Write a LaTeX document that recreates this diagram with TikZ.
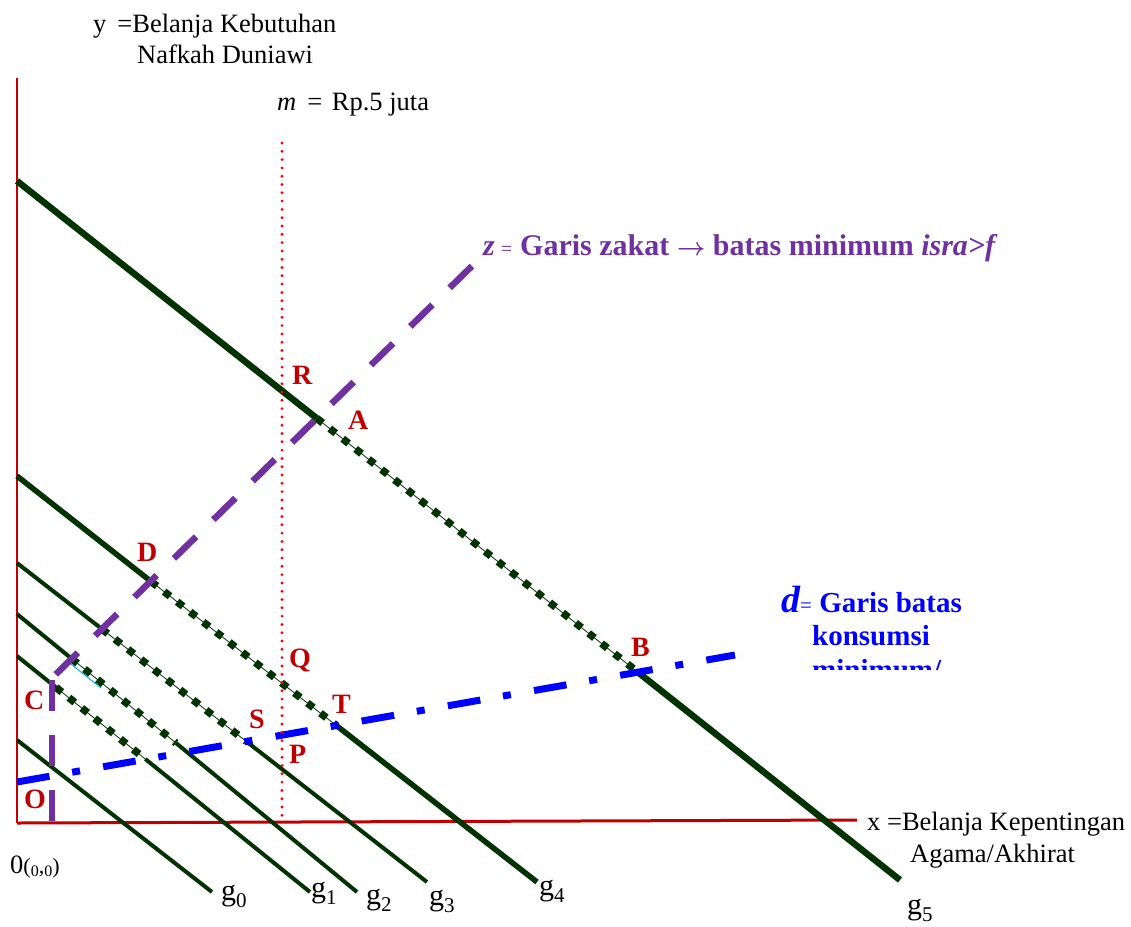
\documentclass[tikz,border=0pt]{standalone}
\usepackage{fontspec}
\setmainfont{Liberation Serif}
\usepackage{xcolor}
\usepackage{tikz}

\definecolor{axred}{RGB}{192,0,0}
\definecolor{gdark}{RGB}{0,51,0}
\definecolor{zpurple}{RGB}{112,48,160}
\definecolor{dblue}{RGB}{0,0,255}
\definecolor{skyline}{RGB}{0,176,240}

\begin{document}
\begin{tikzpicture}[
  x=1pt, y=-1pt,
  every node/.style={inner sep=0pt, anchor=base west},
  lab/.style={font=\fontsize{26.5}{30}\selectfont},
  glab/.style={font=\fontsize{30}{30}\selectfont},
  ptlab/.style={font=\fontsize{28}{28}\selectfont\bfseries, text=axred},
  zlab/.style={font=\fontsize{30}{30}\selectfont\bfseries, text=zpurple},
  dlab/.style={font=\fontsize{29}{29}\selectfont\bfseries, text=dblue},
  axis/.style={draw=axred, line width=2.5pt},
  gline/.style={draw=gdark, line width=4pt},
  hatch/.style={draw=gdark, line width=7.5pt, dash pattern=on 7.5pt off 9pt,
                preaction={draw=gdark, solid, line width=0.8pt}},
  zline/.style={draw=zpurple, line width=6.5pt},
  dline/.style={draw=dblue, line width=7pt,
                dash pattern=on 33pt off 23pt on 8pt off 23.5pt},
  mline/.style={draw=red, line width=3.2pt, line cap=round,
                dash pattern=on 0pt off 8.3pt}
]
\useasboundingbox (0,0) rectangle (1131,926);

% ── axes ─────────────────────────────────────
\coordinate (org) at (17,823);
\coordinate (ytop) at (17,78);
\coordinate (xend) at (857,820);
\draw[axis] (ytop) -- (org);
\draw[axis, line width=3pt] (org) -- (xend);

% ── budget lines g0 ... g5 ───────────────────
\coordinate (g5a) at (17,181);   \coordinate (g5b) at (900,880);
\coordinate (A) at (316.8,418.3); \coordinate (B) at (637.6,672);
\coordinate (g4a) at (17,476);   \coordinate (g4b) at (537,882);
\coordinate (D) at (151.1,581.5); \coordinate (T) at (337,726);
\coordinate (g3a) at (17,563);   \coordinate (g3b) at (427,882);
\coordinate (z3) at (101.9,629);  \coordinate (S) at (246.3,741.4);
\coordinate (g2a) at (17,614);   \coordinate (g2b) at (357,892);
\coordinate (z2) at (71.7,658.7); \coordinate (d2) at (176,743);
\coordinate (g1a) at (17,656);   \coordinate (g1b) at (310,892);
\coordinate (z1) at (56,687.4);   \coordinate (d1) at (145.3,759);
\coordinate (g0a) at (17,740);   \coordinate (g0b) at (212,892);

\draw[gline, line width=6.5pt] (g5a) -- (A);
\draw[hatch] (A) -- (B);
\draw[gline, line width=6.5pt] (B) -- (g5b);
\draw[gline, line width=5.5pt] (g4a) -- (D);
\draw[hatch] (D) -- (T);
\draw[gline, line width=5.5pt] (T) -- (g4b);
\draw[gline] (g3a) -- (z3);
\draw[hatch] (z3) -- (S);
\draw[gline] (S) -- (g3b);
\draw[gline] (g2a) -- (z2);
\draw[hatch] (z2) -- (d2);
\draw[gline] (d2) -- (g2b);
\draw[gline] (g1a) -- (z1);
\draw[hatch] (z1) -- (d1);
\draw[gline] (d1) -- (g1b);
\draw[gline] (g0a) -- (g0b);
\draw[draw=skyline, line width=1pt] (66,660) -- (101,688);

% ── z: zakat line ────────────────────────────
\coordinate (ztop) at (475,263);
\coordinate (zcor) at (52,678);
\coordinate (zvt) at (52,680);
\coordinate (zbot) at (52,823);
\draw[zline, dash pattern=on 31pt off 24.2pt, dash phase=50.8pt] (ztop) -- (zcor);
\draw[zline, dash pattern=on 31pt off 24pt] (zvt) -- (zbot);

% ── d: minimum consumption line ──────────────
\coordinate (dst) at (17,782);
\coordinate (dend) at (735,655);
\draw[dline] (dst) -- (dend);

% ── m: income line ───────────────────────────
\coordinate (mtop) at (282,143);
\coordinate (mbot) at (282,823);
\draw[mline] (mtop) -- (mbot);

% ── axis texts ───────────────────────────────
\node[lab] (ylab) at (93,32) {y \,=Belanja Kebutuhan};
\node[lab] (ylab2) at (137,63) {Nafkah Duniawi};
\node[lab] (mlab) at (277,110) {\textit{m}\hspace{11pt}=\hspace{3pt} Rp.5 juta};
\node[lab] (xlab) at (867,830) {x =Belanja Kepentingan};
\node[lab] (xlab2) at (910,862) {Agama/Akhirat};
\node[lab] (olab) at (10,873) {0{\fontsize{22}{22}\selectfont(\raisebox{-3pt}{\fontsize{16}{16}\selectfont 0},\raisebox{-3pt}{\fontsize{16}{16}\selectfont 0})}};

% ── g labels ─────────────────────────────────
\node[glab] (lg0) at (221,900) {g\raisebox{-7pt}{\fontsize{21}{21}\selectfont 0}};
\node[glab] (lg1) at (311,897) {g\raisebox{-7pt}{\fontsize{21}{21}\selectfont 1}};
\node[glab] (lg2) at (366,904) {g\raisebox{-7pt}{\fontsize{21}{21}\selectfont 2}};
\node[glab] (lg3) at (429,905) {g\raisebox{-7pt}{\fontsize{21}{21}\selectfont 3}};
\node[glab] (lg4) at (539,895) {g\raisebox{-7pt}{\fontsize{21}{21}\selectfont 4}};
\node[glab] (lg5) at (907,914) {g\raisebox{-7pt}{\fontsize{21}{21}\selectfont 5}};

% ── point labels ─────────────────────────────
\node[ptlab] (lR) at (292,384) {R};
\node[ptlab] (lA) at (348,429) {A};
\node[ptlab] (lD) at (137,561) {D};
\node[ptlab] (lB) at (631,656) {B};
\node[ptlab] (lQ) at (289,667) {Q};
\node[ptlab] (lT) at (332,713) {T};
\node[ptlab] (lS) at (249,728) {S};
\node[ptlab] (lP) at (289,763) {P};
\node[ptlab] (lC) at (24,709) {C};
\node[ptlab] (lO) at (24,808) {O};

% ── line captions ────────────────────────────
\node[zlab] (zcap) at (483,255) {{\itshape z}\hspace{6pt}{\mdseries\fontsize{20}{20}\selectfont=}\hspace{8pt}Garis zakat {\boldmath$\rightarrow$} batas minimum {\itshape isra>f}};
\node[dlab] (dcap) at (781,612) {{\fontsize{38}{38}\selectfont\itshape d}{\mdseries\fontsize{21}{21}\selectfont=} Garis batas};
\node[dlab] (dcap2) at (812,645) {konsumsi};
\begin{scope}
  \clip (800,650) rectangle (975,669);
  \node[dlab] (dcap3) at (812,679) {minimum/};
\end{scope}
\end{tikzpicture}
\end{document}
